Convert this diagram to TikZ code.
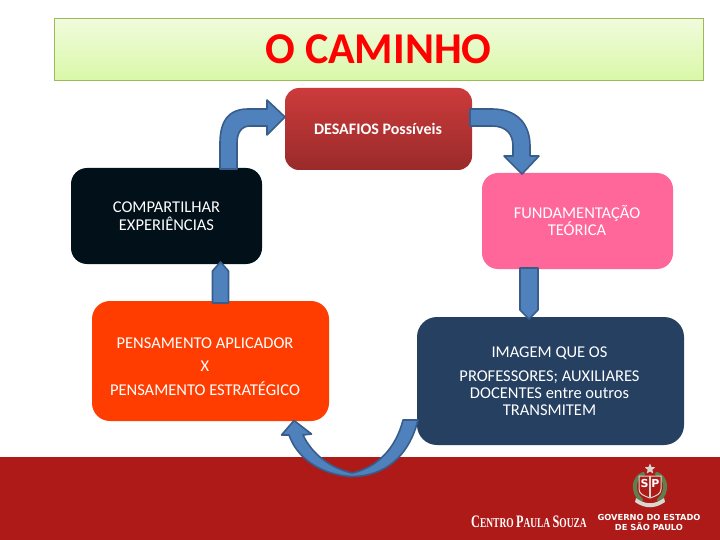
\documentclass[tikz,border=0pt]{standalone}
\usepackage{fontspec}
\setmainfont{Carlito}
\newfontfamily\logoserif{Liberation Serif}
\newfontfamily\logosans{DejaVu Sans}
\usetikzlibrary{shapes.geometric}
\definecolor{arrowfill}{HTML}{4F81BD}
\definecolor{arrowline}{HTML}{385D8A}
\definecolor{band}{HTML}{AE1A18}
\definecolor{titleline}{HTML}{9BBB59}
\definecolor{titletop}{HTML}{F1FBDC}
\definecolor{titlebot}{HTML}{D9F8A8}
\definecolor{redtop}{HTML}{CC3B3B}
\definecolor{redbot}{HTML}{9A2A2A}
\definecolor{darkbox}{HTML}{02101A}
\definecolor{pinkbox}{HTML}{FF6699}
\definecolor{orangebox}{HTML}{FF3D00}
\definecolor{navybox}{HTML}{254061}
\definecolor{laurel}{HTML}{5F7F4F}
\definecolor{silver}{HTML}{D8D8D0}
\tikzset{
  box/.style={rounded corners=#1,inner sep=0pt,outer sep=0pt,anchor=north west},
  lab/.style={text=white,align=center,font=\fontsize{16.5}{17}\selectfont,inner sep=0pt},
  blockarrow/.style={fill=arrowfill,draw=arrowline,line width=1.6pt,line join=round},
}
\begin{document}
\begin{tikzpicture}[x=1pt,y=-1pt]
\useasboundingbox (0,0) rectangle (720,540);
\fill[white] (0,0) rectangle (720,540);
\fill[band] (0,457) rectangle (720,540);
% title
\node[draw=titleline,line width=1pt,top color=titletop,bottom color=titlebot,minimum width=649pt,minimum height=62pt,anchor=north west,inner sep=0pt] (title) at (54,18) {};
\node[text=red,font=\fontsize{44}{46}\selectfont\bfseries,inner sep=0pt] (titletext) at (378.5,49) {O CAMINHO};
% boxes
\node[box=14pt,minimum width=187pt,minimum height=82pt,top color=redtop,bottom color=redbot] (desafios) at (285,88) {};
\node[box=16pt,fill=darkbox,minimum width=191pt,minimum height=96pt] (comp) at (71,168) {};
\node[box=16pt,fill=pinkbox,minimum width=191pt,minimum height=96pt] (fund) at (482,173) {};
\node[box=18pt,fill=orangebox,minimum width=237pt,minimum height=120pt] (pens) at (92,301) {};
\node[box=20pt,fill=navybox,minimum width=267pt,minimum height=128pt] (imag) at (417,317) {};
% arrows
\draw[blockarrow] (220,169) -- (220,143) .. controls (220,122) and (228,109) .. (248,109) -- (267,109) -- (267,100) -- (285,117) -- (267,135) -- (267,126) -- (250,126) .. controls (242,126) and (237,132) .. (237,143) -- (237,169) -- cycle;
\draw[blockarrow] (470,109) -- (492,109) .. controls (518,109) and (530,125) .. (530,146) -- (530,156) -- (539,156) -- (522,174) -- (504,156) -- (513,156) -- (513,146) .. controls (513,134) and (506,126) .. (492,126) -- (470,126) -- cycle;
\draw[blockarrow] (212.5,303) -- (212.5,271) -- (220.5,262) -- (228.5,271) -- (228.5,303) -- cycle;
\draw[blockarrow] (520,268) -- (538,268) -- (538,310) -- (529,319) -- (520,310) -- cycle;
\draw[blockarrow] (418,420) .. controls (409,456) and (385,477) .. (350,476.5) .. controls (320,474) and (297,458) .. (289,435) -- (281.5,435) -- (294,420.5) -- (311.5,434) -- (303,435) .. controls (312,454) and (330,468) .. (352,473) .. controls (377,468) and (396,448) .. (403,420) -- cycle;
% labels
\node[lab,font=\fontsize{16}{17}\selectfont\bfseries] (t1) at (378,128.5) {DESAFIOS Possíveis};
\node[lab,font=\fontsize{16.5}{18}\selectfont] (t2) at (166.5,216.5) {COMPARTILHAR\\EXPERIÊNCIAS};
\node[lab] (t3) at (577,220) {FUNDAMENTAÇÃO\\TEÓRICA};
\node[lab,font=\fontsize{16.5}{23.5}\selectfont] (t4) at (205,366.5) {PENSAMENTO APLICADOR\\X\\PENSAMENTO ESTRATÉGICO};
\node[lab] (t5) at (549.5,381.5) {IMAGEM QUE OS\\[7pt]PROFESSORES; AUXILIARES\\DOCENTES entre outros\\TRANSMITEM};
% footer logo
\node[text=white,inner sep=0pt,font=\logoserif\bfseries\fontsize{17.5}{18}\selectfont] (cps) at (529,522) {\scalebox{0.70}[1]{C\fontsize{13.5}{14}\selectfont ENTRO \fontsize{17.5}{18}\selectfont P\fontsize{13.5}{14}\selectfont AULA \fontsize{17.5}{18}\selectfont S\fontsize{13.5}{14}\selectfont OUZA}};
\node[text=white,inner sep=0pt,align=center,font=\logosans\bfseries\fontsize{8.3}{9.4}\selectfont] (gov) at (649,522.5) {GOVERNO DO ESTADO\\DE SÃO PAULO};
% emblem
\draw[laurel,line width=4pt,line cap=round] (643,474) .. controls (633,478) and (632,492) .. (641,500);
\draw[laurel,line width=4pt,line cap=round] (657,474) .. controls (667,478) and (668,492) .. (659,500);
\node[star,star points=5,star point ratio=2.2,fill=silver,minimum size=11pt,inner sep=0pt] (star) at (650,469) {};
\fill[band,draw=silver,line width=1pt] (639,476) -- (661,476) -- (661,489) .. controls (661,494) and (656,496) .. (650,498) .. controls (644,496) and (639,494) .. (639,489) -- cycle;
\fill[silver] (649.2,476) rectangle (650.8,497);
\node[text=white,inner sep=0pt,font=\logosans\bfseries\fontsize{11}{11}\selectfont] (spleft) at (644.5,483.5) {S};
\node[text=white,inner sep=0pt,font=\logosans\bfseries\fontsize{11}{11}\selectfont] (spright) at (655.5,483.5) {P};
\fill[silver] (636,498) .. controls (645,505) and (655,505) .. (664,498) -- (665,502) .. controls (655,509) and (645,509) .. (635,502) -- cycle;
\end{tikzpicture}
\end{document}
